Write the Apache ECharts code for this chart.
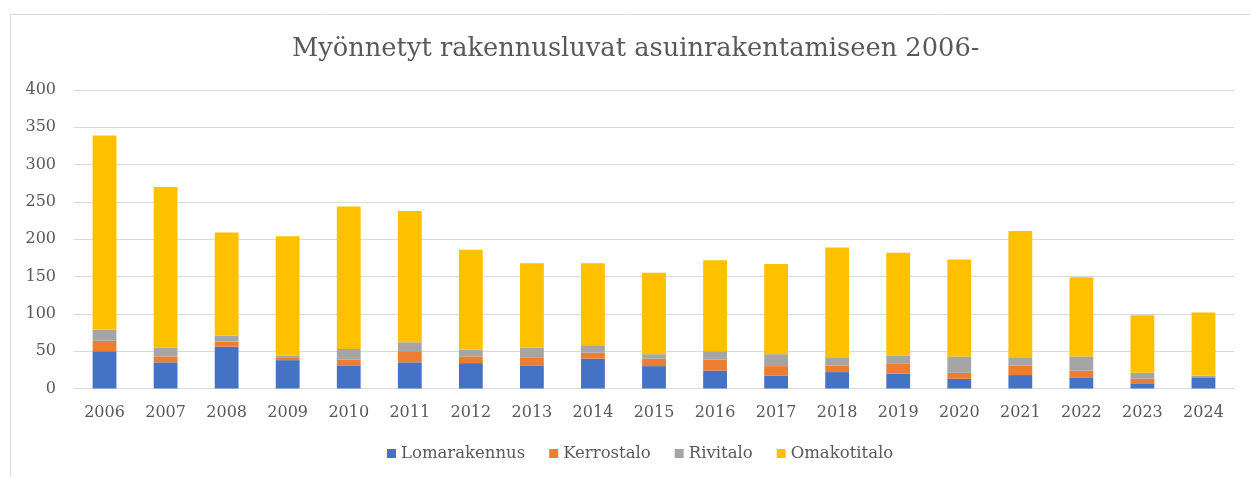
<!DOCTYPE html>
<html>
<head>
<meta charset="utf-8">
<script src="https://cdn.jsdelivr.net/npm/echarts@6/dist/echarts.min.js"></script>
<style>
  html, body { margin: 0; padding: 0; background: #fff; }
  #chart { width: 1250px; height: 477px; }
</style>
</head>
<body>
<div id="chart"></div>
<script>
// vuodet ja sarjat
const years = ["2006", "2007", "2008", "2009", "2010", "2011", "2012", "2013", "2014", "2015",
  "2016", "2017", "2018", "2019", "2020", "2021", "2022", "2023", "2024"];
const lomarakennus = [50, 35, 56, 38, 31, 35, 34, 31, 40, 30, 24, 17, 22, 20, 13, 18, 15, 7, 15];
const kerrostalo = [14, 8, 7, 3, 8, 15, 9, 10, 8, 10, 15, 13, 9, 13, 8, 13, 9, 6, 0];
const rivitalo = [15, 12, 8, 3, 14, 12, 9, 14, 10, 6, 11, 16, 10, 11, 22, 10, 19, 8, 2];
const omakotitalo = [260, 215, 138, 160, 191, 176, 134, 113, 110, 109, 122, 121, 148, 138, 130, 170, 106, 77, 85];

const textColor = "#595959";
const font = "DejaVu Serif";

const chart = echarts.init(document.getElementById("chart"));

function makeSeries(name, data, color) {
  return {
    name: name,
    type: "bar",
    stack: "total",
    data: data,
    barWidth: "39%",
    itemStyle: { color: color },
  };
}

const option = {
  backgroundColor: "#fff",
  animation: false,
  textStyle: { fontFamily: font },
  title: {
    text: "Myönnetyt rakennusluvat asuinrakentamiseen 2006-",
    left: 287,
    top: 31,
    textStyle: { fontFamily: font, fontSize: 25.7, fontWeight: "normal", color: textColor },
  },
  graphic: [
    {
      type: "rect",
      shape: { x: 10.5, y: 14.5, width: 1260, height: 480 },
      style: { fill: "none", stroke: "#d9d9d9", lineWidth: 1 },
      silent: true,
    },
  ],
  legend: {
    bottom: 10,
    left: 382,
    icon: "rect",
    itemWidth: 9,
    itemHeight: 9,
    itemGap: 24,
    textStyle: { fontFamily: font, fontSize: 16.5, color: textColor },
    data: ["Lomarakennus", "Kerrostalo", "Rivitalo", "Omakotitalo"],
  },
  grid: { left: 74, right: 16, top: 90, bottom: 88.5 },
  xAxis: {
    type: "category",
    data: years,
    axisLine: { lineStyle: { color: "#d9d9d9" } },
    axisTick: { show: false },
    axisLabel: { fontFamily: font, fontSize: 16, color: textColor, margin: 16 },
  },
  yAxis: {
    type: "value",
    min: 0,
    max: 400,
    interval: 50,
    axisLine: { show: false },
    axisTick: { show: false },
    splitLine: { lineStyle: { color: "#d9d9d9", width: 1 } },
    axisLabel: { fontFamily: font, fontSize: 16, color: textColor, margin: 18 },
  },
  series: [
    makeSeries("Lomarakennus", lomarakennus, "#4472C4"),
    makeSeries("Kerrostalo", kerrostalo, "#ED7D31"),
    makeSeries("Rivitalo", rivitalo, "#A5A5A5"),
    makeSeries("Omakotitalo", omakotitalo, "#FFC000"),
  ],
};

chart.setOption(option);
</script>
</body>
</html>
